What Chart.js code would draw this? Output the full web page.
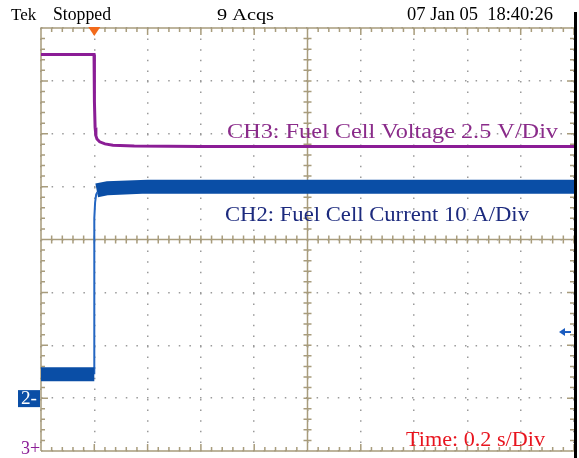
<!DOCTYPE html>
<html>
<head>
<meta charset="utf-8">
<script src="https://cdn.jsdelivr.net/npm/chart.js@4"></script>
<style>
  html, body { margin: 0; padding: 0; background: #fff; }
  canvas { display: block; }
</style>
</head>
<body>
<canvas id="scope" width="579" height="458"></canvas>
<script>
// time in seconds (0.2 s/div, 10 div), trigger at 0.2 s
const timeCh3 = [0, 0.199, 0.2, 0.201, 0.203, 0.206, 0.21, 0.22, 0.24, 0.27, 0.35, 0.6, 2.0];
const voltCh3 = [18.75, 18.75, 18.3, 16.5, 15.3, 14.9, 14.75, 14.62, 14.52, 14.46, 14.42, 14.4, 14.4];

// current in amps (10 A/div)
const timeCh2Low = [0, 0.2];
const currCh2Low = [4.5, 4.5];
const timeCh2Step = [0.2, 0.2, 0.203, 0.207, 0.212];
const currCh2Step = [4.5, 34, 37, 38.5, 39.0];
const timeCh2High = [0.209, 0.25, 0.4, 2.0];
const currCh2High = [39.3, 39.7, 40, 40];

const triggerTime = 0.2;
const triggerLevel = 12.5;

const headerTexts = ['Tek', 'Stopped', '9 Acqs', '07 Jan 05  18:40:26'];
const ch3Label = 'CH3: Fuel Cell Voltage 2.5 V/Div';
const ch2Label = 'CH2: Fuel Cell Current 10 A/Div';
const timeLabel = 'Time: 0.2 s/Div';

const tan = '#a89c7c';
const purple = '#8b1d96';
const blue = '#0a4ea6';
const serif = '"Liberation Serif", "DejaVu Serif", serif';

function pts(xs, ys) {
  return xs.map((x, i) => ({ x: x, y: ys[i] }));
}

// draw text, stretched horizontally to a given width when one is given
function stretchText(ctx, text, x, y, width, size, color) {
  ctx.save();
  ctx.font = size + 'px ' + serif;
  ctx.fillStyle = color;
  ctx.textBaseline = 'alphabetic';
  ctx.textAlign = 'left';
  let w = ctx.measureText(text).width;
  ctx.translate(x, y);
  if (width) ctx.scale(width / w, 1);
  ctx.fillText(text, 0, 0);
  ctx.restore();
}

const graticule = {
  id: 'graticule',
  beforeDatasetsDraw(chart) {
    const ctx = chart.ctx;
    const a = chart.chartArea;
    const xs = chart.scales.x;
    const ys = chart.scales.y;
    const dx = (xs.getPixelForValue(0.2) - xs.getPixelForValue(0)) / 5;
    const dy = (ys.getPixelForValue(0) - ys.getPixelForValue(2.5)) / 5;
    const cx = xs.getPixelForValue(1.0);
    const cy = ys.getPixelForValue(10);

    ctx.save();
    ctx.strokeStyle = tan;
    ctx.lineWidth = 1.5;
    ctx.beginPath();
    // frame
    ctx.moveTo(a.left, a.bottom); ctx.lineTo(a.left, a.top); ctx.lineTo(a.right, a.top);
    ctx.moveTo(a.left, a.bottom); ctx.lineTo(a.right, a.bottom);
    // centre cross
    ctx.moveTo(cx, a.top); ctx.lineTo(cx, a.bottom);
    ctx.moveTo(a.left, cy); ctx.lineTo(a.right, cy);
    // ticks along x
    for (let i = 0; i <= 50; i++) {
      const x = a.left + i * dx;
      const len = i % 5 === 0 ? 7 : 4;
      ctx.moveTo(x, a.top); ctx.lineTo(x, a.top + len);
      ctx.moveTo(x, a.bottom); ctx.lineTo(x, a.bottom - len);
      ctx.moveTo(x, cy - 4); ctx.lineTo(x, cy + 4);
    }
    // ticks along y
    for (let j = 0; j <= 40; j++) {
      const y = a.top + j * dy;
      const len = j % 5 === 0 ? 7 : 4;
      ctx.moveTo(a.left, y); ctx.lineTo(a.left + len, y);
      ctx.moveTo(a.right, y); ctx.lineTo(a.right - len, y);
      ctx.moveTo(cx - 4, y); ctx.lineTo(cx + 4, y);
    }
    ctx.stroke();

    // right black edge
    ctx.fillStyle = '#000';
    ctx.fillRect(a.right, 12, 3, 458 - 12);
    ctx.restore();
  },
  afterDatasetsDraw(chart) {
    const ctx = chart.ctx;
    const a = chart.chartArea;
    const xs = chart.scales.x;
    const ys = chart.scales.y;
    const y2 = chart.scales.y2;

    // header
    stretchText(ctx, headerTexts[0], 11, 20, null, 17, '#000');
    stretchText(ctx, headerTexts[1], 53, 20, 58, 18, '#000');
    stretchText(ctx, headerTexts[2], 217, 20, 57, 17, '#000');
    stretchText(ctx, headerTexts[3], 407, 20, 146, 18, '#000');

    // trigger position marker
    const tx = xs.getPixelForValue(triggerTime);
    ctx.save();
    ctx.fillStyle = '#f26a1b';
    ctx.beginPath();
    ctx.moveTo(tx - 6, a.top - 1);
    ctx.lineTo(tx + 6, a.top - 1);
    ctx.lineTo(tx, a.top + 8);
    ctx.closePath();
    ctx.fill();

    // trigger level arrow
    const ly = y2.getPixelForValue(triggerLevel);
    ctx.strokeStyle = '#1a5cc0';
    ctx.fillStyle = '#1a5cc0';
    ctx.lineWidth = 2;
    ctx.beginPath();
    ctx.moveTo(a.right - 3, ly); ctx.lineTo(a.right - 11, ly);
    ctx.stroke();
    ctx.beginPath();
    ctx.moveTo(a.right - 15, ly);
    ctx.lineTo(a.right - 9, ly - 4);
    ctx.lineTo(a.right - 9, ly + 4);
    ctx.closePath();
    ctx.fill();

    // channel ground markers
    const g2 = y2.getPixelForValue(0);
    ctx.fillStyle = blue;
    ctx.fillRect(18, g2 - 8, 22, 17);
    ctx.restore();
    stretchText(ctx, '2-', 21, g2 + 6, 16, 18, '#fff');
    stretchText(ctx, '3+', 21, ys.getPixelForValue(0) + 3, null, 18, purple);

    // channel and timebase labels
    stretchText(ctx, ch3Label, 227, 138, 331, 20, '#8a2b8a');
    stretchText(ctx, ch2Label, 225, 221, 304, 21, '#1c2a7e');
    stretchText(ctx, timeLabel, 406, 446, 139, 22, '#e8141e');
  }
};

const hiddenGrid = {
  ticks: { display: false },
  grid: { color: '#9a9a9a', lineWidth: 1.5, drawTicks: false },
  border: { display: false, dash: [1.5, 9.1] }
};

new Chart(document.getElementById('scope').getContext('2d'), {
  type: 'line',
  data: {
    datasets: [
      { data: pts(timeCh3, voltCh3), yAxisID: 'y', borderColor: purple, borderWidth: 3 },
      { data: pts(timeCh2Low, currCh2Low), yAxisID: 'y2', borderColor: blue, borderWidth: 14 },
      { data: pts(timeCh2Step, currCh2Step), yAxisID: 'y2', borderColor: '#2466c2', borderWidth: 2 },
      { data: pts(timeCh2High, currCh2High), yAxisID: 'y2', borderColor: blue, borderWidth: 14 }
    ]
  },
  options: {
    responsive: false,
    animation: false,
    layout: { padding: { left: 41, top: 28, right: 5, bottom: 7 } },
    elements: { point: { radius: 0 }, line: { tension: 0, borderCapStyle: 'butt' } },
    plugins: { legend: { display: false }, tooltip: { enabled: false } },
    scales: {
      x: Object.assign({ type: 'linear', min: 0, max: 2 }, hiddenGrid, {
        ticks: { display: false, stepSize: 0.2 }
      }),
      y: Object.assign({ min: 0, max: 20 }, hiddenGrid, {
        ticks: { display: false, stepSize: 2.5 }
      }),
      y2: { min: -10, max: 70, display: false }
    }
  },
  plugins: [graticule]
});
</script>
</body>
</html>
